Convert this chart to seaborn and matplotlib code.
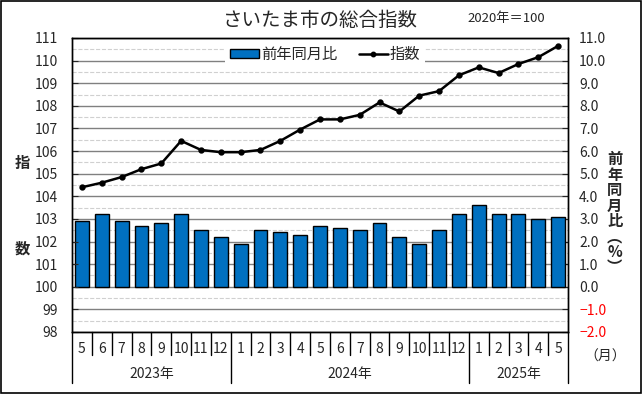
import numpy as np
import pandas as pd
import matplotlib
matplotlib.use("Agg")
import matplotlib.pyplot as plt
import seaborn as sns
from matplotlib.patches import Patch, Rectangle
from matplotlib.lines import Line2D

# --- data ---
periods = ["2023-05", "2023-06", "2023-07", "2023-08", "2023-09", "2023-10", "2023-11", "2023-12",
           "2024-01", "2024-02", "2024-03", "2024-04", "2024-05", "2024-06", "2024-07", "2024-08",
           "2024-09", "2024-10", "2024-11", "2024-12", "2025-01", "2025-02", "2025-03", "2025-04",
           "2025-05"]
month_labels = ["5", "6", "7", "8", "9", "10", "11", "12", "1", "2", "3", "4", "5", "6", "7", "8",
                "9", "10", "11", "12", "1", "2", "3", "4", "5"]
year_labels = ["2023年", "2024年", "2025年"]
index_values = [104.4, 104.6, 104.85, 105.2, 105.45, 106.45, 106.05, 105.95,
                105.95, 106.05, 106.45, 106.95, 107.4, 107.4, 107.6, 108.15,
                107.75, 108.45, 108.65, 109.35, 109.7, 109.45, 109.85, 110.15, 110.65]
yoy_values = [2.9, 3.2, 2.9, 2.7, 2.8, 3.2, 2.5, 2.2, 1.9, 2.5, 2.4, 2.3, 2.7,
              2.6, 2.5, 2.8, 2.2, 1.9, 2.5, 3.2, 3.6, 3.2, 3.2, 3.0, 3.1]

df = pd.DataFrame({"period": periods, "index": index_values, "yoy": yoy_values})

sns.set_style("white")
plt.rcParams["font.family"] = ["Noto Sans CJK JP", "DejaVu Sans"]
plt.rcParams["axes.unicode_minus"] = False

BAR_BLUE = "#0070C0"

fig = plt.figure(figsize=(6.43, 3.94), dpi=100)
ax = fig.add_axes([0.112, 0.1574, 0.7714, 0.7462])

# bars (year-on-year %) on the main axes, scale on the right
sns.barplot(data=df, x="period", y="yoy", ax=ax, color=BAR_BLUE, edgecolor="black",
            linewidth=1, width=0.7, saturation=1, errorbar=None)
ax.set_ylim(-2, 11)
ax.set_xlim(-0.5, len(periods) - 0.5)
ax.set_yticks(np.arange(-2, 12, 1))
ax.set_yticks(np.arange(-2, 11.01, 0.5), minor=True)
ax.grid(which="major", axis="y", color="#808080", lw=1)
ax.grid(which="minor", axis="y", color="#d0d0d0", lw=0.8, ls="--")
ax.set_axisbelow(True)
ax.set_xlabel("")
ax.set_ylabel("")

# index line on a twin axis, scale on the left
axl = ax.twinx()
sns.pointplot(data=df, x="period", y="index", ax=axl, color="black", markers="o",
              markersize=3.2, linewidth=1.8, errorbar=None)
axl.set_ylim(98, 111)
axl.set_yticks(np.arange(98, 112, 1))
axl.set_xlim(-0.5, len(periods) - 0.5)
axl.set_xlabel("")
axl.set_ylabel("")

ax.yaxis.tick_right()
axl.yaxis.tick_left()
ax.tick_params(axis="y", which="major", direction="in", length=4, pad=8, labelsize=10)
ax.tick_params(axis="y", which="minor", length=0)
axl.tick_params(axis="y", direction="in", length=4, pad=10, labelsize=10)
ax.set_yticklabels([f"−{abs(v):.1f}" if v < 0 else f"{v:.1f}" for v in np.arange(-2, 12, 1)])
for lab, v in zip(ax.get_yticklabels(), np.arange(-2, 12, 1)):
    if v < 0:
        lab.set_color("red")

# month labels and the boxed category axis
ax.set_xticks(range(len(periods)))
ax.set_xticklabels(month_labels, fontsize=10)
ax.tick_params(axis="x", length=0, pad=7)
trans = ax.get_xaxis_transform()
year_bounds = [-0.5, 7.5, 19.5, len(periods) - 0.5]
for b in np.arange(-0.5, len(periods), 1):
    low = -0.173 if b in year_bounds else -0.078
    ax.plot([b, b], [0, low], color="black", lw=1, transform=trans, clip_on=False)
for i, lab in enumerate(year_labels):
    ax.text((year_bounds[i] + year_bounds[i + 1]) / 2, -0.143, lab, transform=trans,
            ha="center", va="center", fontsize=10)

for a in (ax, axl):
    for s in a.spines.values():
        s.set_color("black")
        s.set_linewidth(1)

# legend
handles = [Patch(facecolor=BAR_BLUE, edgecolor="black", lw=1),
           Line2D([], [], color="black", lw=1.8, marker="o", markersize=3.2)]
axl.legend(handles, ["前年同月比", "指数"], loc="upper center", bbox_to_anchor=(0.51, 1.015),
           ncol=2, fontsize=11, frameon=True, facecolor="white", edgecolor="none",
           framealpha=1, handlelength=1.9, handleheight=0.5, handletextpad=0.15,
           columnspacing=1.4, borderpad=0.3)

# titles and axis labels
fig.text(0.498, 0.949, "さいたま市の総合指数", ha="center", va="center", fontsize=14)
fig.text(0.787, 0.954, "2020年＝100", ha="center", va="center", fontsize=9.5)
fig.text(0.034, 0.586, "指", ha="center", va="center", fontsize=11, fontweight="bold")
fig.text(0.034, 0.368, "数", ha="center", va="center", fontsize=11, fontweight="bold")
fig.text(0.956, 0.459, "\n".join(["前", "年", "同", "月", "比", "︵", "%", "︶"]),
         ha="center", va="center", fontsize=11, fontweight="bold", linespacing=0.95)
fig.text(0.941, 0.094, "（月）", ha="center", va="center", fontsize=10)

fig.patches.append(Rectangle((0.002, 0.003), 0.995, 0.994, transform=fig.transFigure,
                             fill=False, edgecolor="black", lw=1.2))

fig.savefig("out.png", dpi=100)
